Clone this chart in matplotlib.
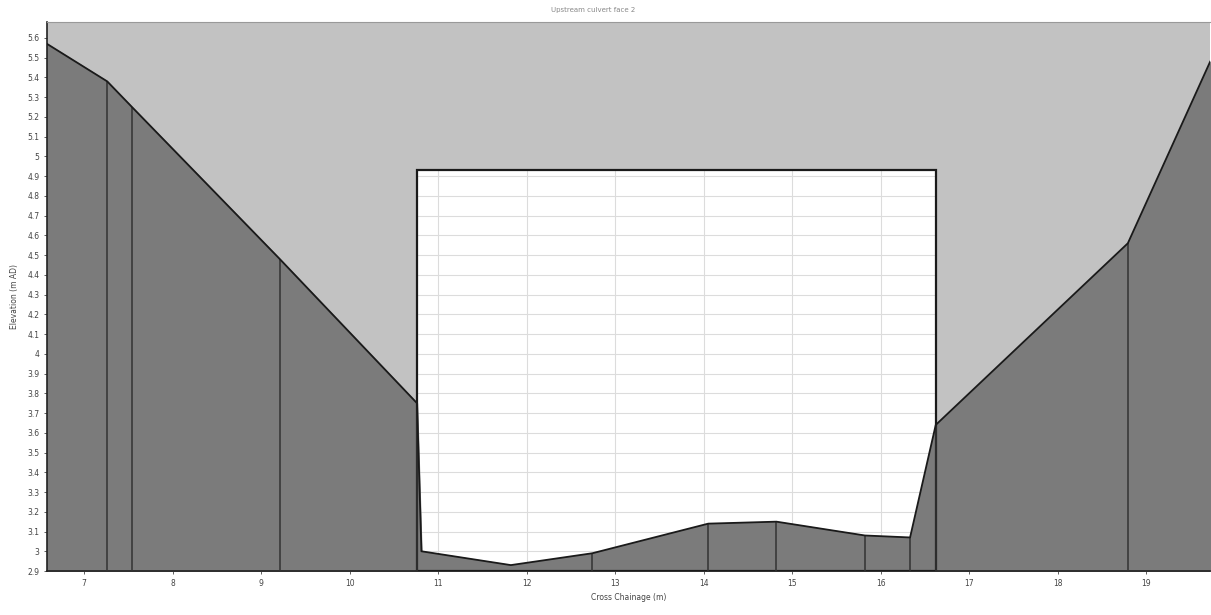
import matplotlib
matplotlib.use('Agg')
import matplotlib.pyplot as plt
from matplotlib.patches import Rectangle

# Ground profile (cross chainage in m, elevation in m AD)
chainage = [6.58, 7.26, 7.54, 9.21, 10.76, 10.81, 11.82, 12.74, 14.05, 14.82, 15.82, 16.33, 16.62, 18.79, 19.72]
elevation = [5.57, 5.38, 5.25, 4.48, 3.75, 3.00, 2.93, 2.99, 3.14, 3.15, 3.08, 3.07, 3.64, 4.56, 5.48]

# Survey points marked with vertical lines
marker_chainage = [7.26, 7.54, 9.21, 10.76, 12.74, 14.05, 14.82, 15.82, 16.33, 16.62, 18.79]

# Culvert opening
culvert_left = 10.76
culvert_right = 16.62
culvert_top = 4.93

x_ticks = list(range(7, 20))
y_ticks = [round(2.9 + 0.1 * i, 1) for i in range(28)]
y_min = 2.9
y_max = 5.68
x_min = 6.58
x_max = 19.72

fig = plt.figure(figsize=(12.11, 6.15), dpi=100)
ax = fig.add_axes([0.0388, 0.0715, 0.9605, 0.8925])
ax.set_facecolor('#c2c2c2')
ax.set_xlim(x_min, x_max)
ax.set_ylim(y_min, y_max)

# culvert opening (white with grid showing through)
rect = Rectangle((culvert_left, y_min), culvert_right - culvert_left, culvert_top - y_min,
                 facecolor='white', edgecolor='none', zorder=1)
ax.add_patch(rect)
frame = Rectangle((culvert_left, y_min), culvert_right - culvert_left, culvert_top - y_min,
                  facecolor='none', edgecolor='#1a1a1a', linewidth=1.6, zorder=3)
ax.add_patch(frame)

# grid only visible inside the culvert
gx = [v for v in x_ticks if culvert_left < v < culvert_right]
gy = [v for v in y_ticks if v < culvert_top]
ax.vlines(gx, y_min, culvert_top, color='#dcdcdc', linewidth=0.8, zorder=1.5)
ax.hlines(gy, culvert_left, culvert_right, color='#dcdcdc', linewidth=0.8, zorder=1.5)

# ground
ax.fill_between(chainage, elevation, y_min, color='#7b7b7b', zorder=2)
ax.plot(chainage, elevation, color='#1a1a1a', linewidth=1.3, zorder=4)

# vertical lines at survey points
for xc in marker_chainage:
    yc = None
    for i in range(len(chainage) - 1):
        if chainage[i] <= xc <= chainage[i + 1]:
            t = (xc - chainage[i]) / (chainage[i + 1] - chainage[i])
            yc = elevation[i] + t * (elevation[i + 1] - elevation[i])
            break
    ax.vlines(xc, y_min, yc, color='#333333', linewidth=1.1, zorder=3)

ax.set_xticks(x_ticks)
ax.set_xticklabels([str(v) for v in x_ticks])
ax.set_yticks(y_ticks)
ax.set_yticklabels(['%g' % v for v in y_ticks])
ax.tick_params(axis='both', labelsize=5.5, colors='#444444', length=2, width=0.6)

for side in ['left', 'bottom']:
    ax.spines[side].set_color('#222222')
    ax.spines[side].set_linewidth(1.2)
ax.spines['top'].set_color('#999999')
ax.spines['right'].set_visible(False)

ax.set_xlabel('Cross Chainage (m)', fontsize=5.5, color='#444444', labelpad=4)
ax.set_ylabel('Elevation (m AD)', fontsize=5.5, color='#444444', labelpad=6)
fig.text(0.49, 0.983, 'Upstream culvert face 2', fontsize=5, color='#888888', ha='center', va='center')

fig.savefig('out.png', dpi=100)
